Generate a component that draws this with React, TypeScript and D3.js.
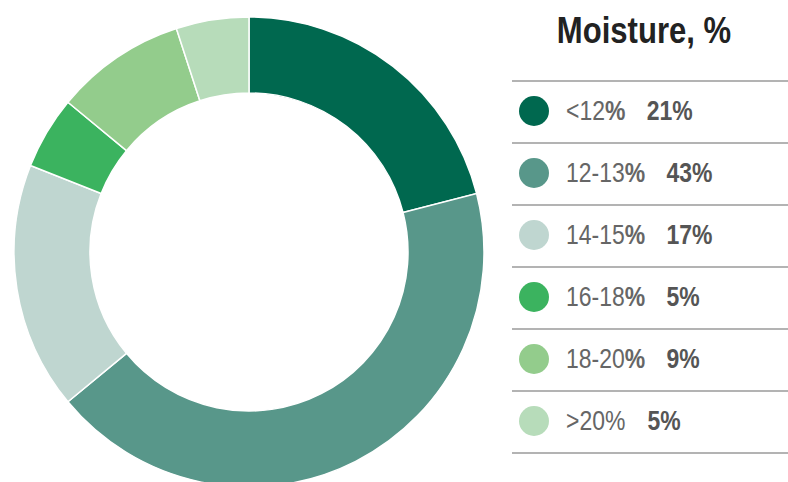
import React from "react";
import * as d3 from "d3";

const categories = ["<12", "12-13", "14-15", "16-18", "18-20", ">20"];
const values = [21, 43, 17, 5, 9, 5];
const colors = ["#00684f", "#58978a", "#bfd6d0", "#3bb35f", "#93cc8c", "#b7dcba"];
const title = "Moisture, %";

const W = 788;
const H = 482;
const FONT = "'Liberation Sans Narrow', 'Arial Narrow', 'Liberation Sans', sans-serif";
const SX = 0.82;

export default function App() {
  const cx = 249;
  const cy = 252;
  const pie = d3.pie<number>().sort(null).value((d) => d);
  const arc = d3.arc<d3.PieArcDatum<number>>().innerRadius(159).outerRadius(235);
  const arcs = pie(values);

  const rowY = d3.scaleLinear().domain([0, 1]).range([81, 143]);
  const lineIdx = d3.range(categories.length + 1);

  return (
    <svg
      width={W}
      height={H}
      style={{ position: "absolute", left: 0, top: 0, background: "#fff" }}
    >
      <g transform={`translate(${cx},${cy})`}>
        {arcs.map((a, i) => (
          <path key={i} d={arc(a) || ""} fill={colors[i]} stroke="#fff" strokeWidth={1.5} />
        ))}
      </g>
      <g transform={`translate(644,43) scale(0.84,1)`}>
        <text
          x={0}
          y={0}
          textAnchor="middle"
          fontFamily={FONT}
          fontWeight="bold"
          fontSize={37}
          fill="#222"
        >
          {title}
        </text>
      </g>
      {lineIdx.map((i) => (
        <line key={i} x1={512} x2={788} y1={rowY(i)} y2={rowY(i)} stroke="#b3b3b3" strokeWidth={2} />
      ))}
      {categories.map((c, i) => {
        const y0 = rowY(i);
        const last = i === categories.length - 1;
        return (
          <g key={c}>
            <circle cx={534} cy={y0 + 30} r={15} fill={colors[i]} />
            <g transform={`translate(566,${y0 + 39}) scale(${SX},1)`}>
              <text x={0} y={0} fontFamily={FONT} fontSize={28} fill="#666">
                <tspan>{c}</tspan>
                <tspan fontWeight={last ? "normal" : "bold"}>%</tspan>
                <tspan dx={last ? 27 : 26} fontWeight="bold" fill="#555">
                  {values[i]}%
                </tspan>
              </text>
            </g>
          </g>
        );
      })}
    </svg>
  );
}
